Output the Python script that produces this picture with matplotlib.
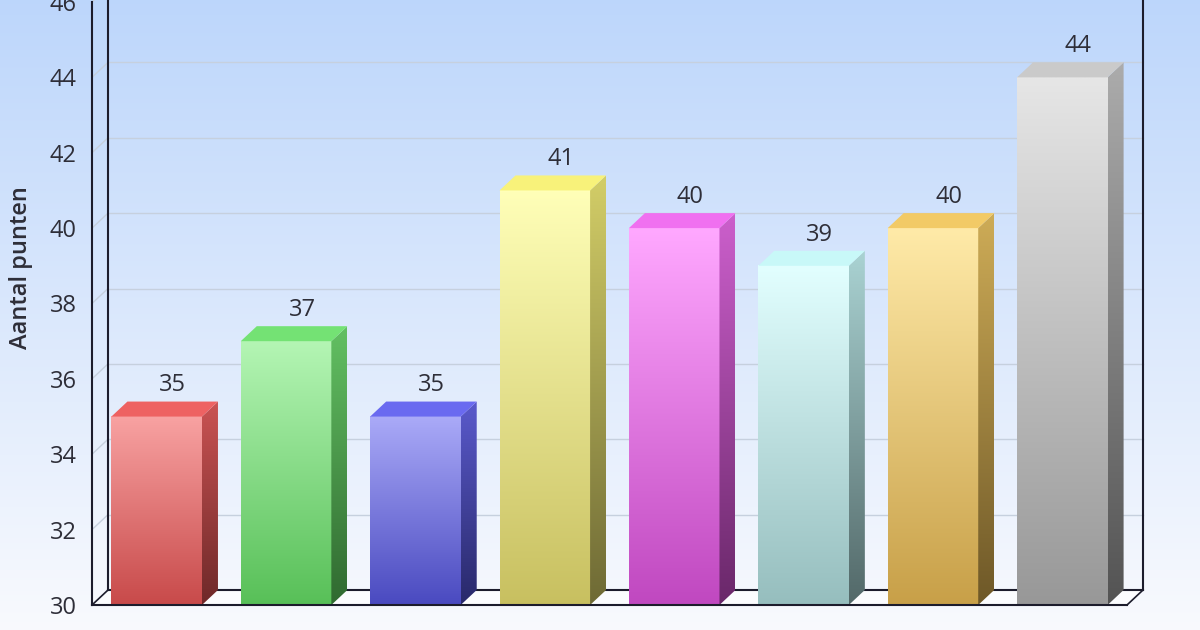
import numpy as np
import matplotlib
matplotlib.use("Agg")
import matplotlib.pyplot as plt
from matplotlib.patches import Polygon
from matplotlib.colors import to_rgb

# Data
scores = [35, 37, 35, 41, 40, 39, 40, 44]
yticks = [30, 32, 34, 36, 38, 40, 42, 44, 46]
ylabel = "Aantal punten"

# Styles: front face (top colour, bottom colour) and top face colour
front_top = ["#f8a2a2", "#b4f5b4", "#aaaaf8", "#ffffb8", "#ffa8ff", "#e2ffff", "#ffeaa8", "#e6e6e6"]
front_bot = ["#c84a4a", "#58c058", "#4a4ac0", "#c8c060", "#c048c0", "#96bebe", "#c8a048", "#989898"]
top_face = ["#ee6262", "#74e274", "#6a6af0", "#f8f27a", "#f070f0", "#c8f8f8", "#f2ca66", "#cacaca"]

plt.rcParams["font.family"] = ["Open Sans", "DejaVu Sans"]

fig = plt.figure(figsize=(12, 6.3), dpi=100)

# figure background gradient
bg = fig.add_axes([0, 0, 1, 1], zorder=-1)
g = np.linspace(0, 1, 256)[:, None, None]
c_top = np.array([0.74, 0.84, 0.985])
c_bot = np.array([0.975, 0.98, 0.995])
bg.imshow(c_top * (1 - g) + c_bot * g, aspect="auto", extent=(0, 1, 0, 1), interpolation="bilinear")
bg.set_axis_off()

ax = fig.add_axes([92 / 1200, 25 / 630, 1035 / 1200, 603 / 630])
ax.set_facecolor("none")
n = len(scores)
x0, x1 = -0.5, n - 0.5
y0, y1 = 30, 46
ax.set_xlim(x0, x1)
ax.set_ylim(y0, y1)

# 3D depth offset (16 px right, 15 px up) in data units
p = ax.transData.transform((0, y0))
dx, dy = ax.transData.inverted().transform(p + np.array([16, 15])) - np.array([0, y0])

dark = "#1c1c2c"
ytop = y1 + 2

# floor
ax.add_patch(Polygon([(x0, y0), (x1, y0), (x1 + dx, y0 + dy), (x0 + dx, y0 + dy)],
                     closed=True, facecolor="#fbfcfe", edgecolor="none", zorder=1, clip_on=False))
# back wall gridlines and left wall diagonals
for t in yticks[1:]:
    ax.plot([x0 + dx, x1 + dx], [t + dy, t + dy], color="#c6d0de", lw=1, zorder=1, clip_on=False)
    ax.plot([x0, x0 + dx], [t, t + dy], color="#c6d0de", lw=1, zorder=1, clip_on=False)
# back wall frame
ax.plot([x0 + dx, x1 + dx], [y0 + dy, y0 + dy], color=dark, lw=1.5, zorder=2, clip_on=False)
ax.plot([x0 + dx, x0 + dx], [y0 + dy, ytop], color=dark, lw=1.5, zorder=2, clip_on=False)
ax.plot([x1 + dx, x1 + dx], [y0 + dy, ytop], color=dark, lw=1.5, zorder=2, clip_on=False)
ax.plot([x0, x0 + dx], [y0, y0 + dy], color=dark, lw=1.2, zorder=2, clip_on=False)
ax.plot([x1, x1 + dx], [y0, y0 + dy], color=dark, lw=1.2, zorder=2, clip_on=False)

w = 0.7
grad = np.linspace(0, 1, 128)[:, None, None]
for i, v in enumerate(scores):
    a, b = i - w / 2, i + w / 2
    ct, cb = np.array(to_rgb(front_top[i])), np.array(to_rgb(front_bot[i]))
    tf = np.array(to_rgb(top_face[i]))
    z = 3 + i * 0.01
    # front face
    ax.imshow(ct * (1 - grad) + cb * grad, extent=(a, b, y0, v), aspect="auto",
              interpolation="bilinear", zorder=z)
    # side face
    side = Polygon([(b, y0), (b + dx, y0 + dy), (b + dx, v + dy), (b, v)], closed=True,
                   transform=ax.transData)
    im = ax.imshow(tf * 0.85 * (1 - grad) + cb * 0.55 * grad, extent=(b, b + dx, y0, v + dy),
                   aspect="auto", interpolation="bilinear", zorder=z)
    im.set_clip_path(side)
    # top face
    ax.add_patch(Polygon([(a, v), (b, v), (b + dx, v + dy), (a + dx, v + dy)], closed=True,
                         facecolor=top_face[i], edgecolor="none", zorder=z))
    ax.annotate(str(v), (i + dx, v + dy), xytext=(0, 3), textcoords="offset points",
                ha="center", va="bottom", fontsize=17, color="#2e2e38", zorder=6)

ax.set_xlim(x0, x1)
ax.set_ylim(y0, y1)

for s in ["top", "right"]:
    ax.spines[s].set_visible(False)
for s in ["left", "bottom"]:
    ax.spines[s].set_color(dark)
    ax.spines[s].set_linewidth(1.5)
    ax.spines[s].set_zorder(7)
ax.set_xticks([])
ax.set_yticks(yticks)
ax.tick_params(axis="y", length=0, pad=11, labelsize=17, labelcolor="#2e2e38")
ax.set_ylabel(ylabel, fontsize=17, fontweight="semibold", color="#2e2e38")
ax.yaxis.set_label_coords(-0.057, 0.559)

fig.savefig("out.png", dpi=100)
